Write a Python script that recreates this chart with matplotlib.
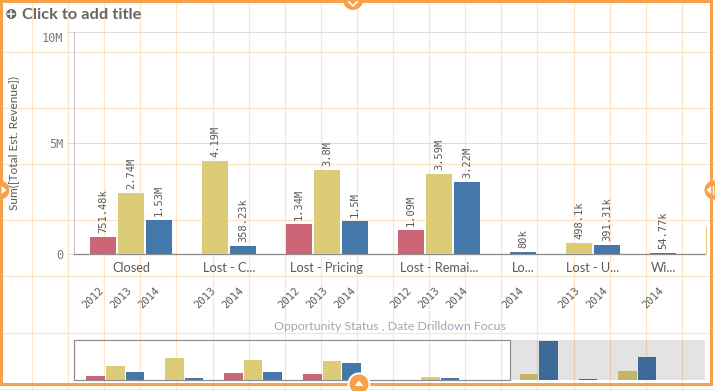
import matplotlib
matplotlib.use("Agg")
import matplotlib.pyplot as plt
from matplotlib.patches import Rectangle, Circle, Polygon
import matplotlib.transforms as mtransforms

plt.rcParams['font.family'] = ['Lato', 'DejaVu Sans']

# ---------------- data ----------------
categories = ["Closed", "Lost - C...", "Lost - Pricing", "Lost - Remai...", "Lo...",
              "Lost - U...", "Wi...", "Won", "Won - F...", "Won - P...", "Won - S..."]
years = [[2012, 2013, 2014], [2013, 2014], [2012, 2013, 2014], [2012, 2013, 2014], [2014],
         [2013, 2014], [2014], [2013, 2014], [2014], [2013, 2014], [2014]]
revenue = [[751480, 2740000, 1530000], [4190000, 358230], [1340000, 3800000, 1500000],
           [1090000, 3590000, 3220000], [80000], [498100, 391310], [54770],
           [1200000, 7500000], [100000], [1640000, 4440000], [40000]]
year_colors = {2012: '#cc6677', 2013: '#ddcc77', 2014: '#4477aa'}
y_ticks = [0, 5e6, 10e6]
y_ticklabels = ['0', '5M', '10M']
title = "Click to add title"
y_label = "Sum([Total Est. Revenue])"
x_label = "Opportunity Status , Date Drilldown Focus"

# ---------------- helpers ----------------
W, H, DPI = 715, 391, 100
def fx(px): return px / W
def fy(py): return 1 - py / H
def pt(px): return px * 72.0 / DPI

def fmt(v):
    if v >= 1e6:
        s = f"{v/1e6:.2f}".rstrip('0').rstrip('.')
        return s + "M"
    s = f"{v/1e3:.2f}".rstrip('0').rstrip('.')
    return s + "k"

# slot layout: consecutive bars within category, one empty slot between categories
slots, vals, cols, yrs, cat_centers = [], [], [], [], []
s = 0
for yl, vl in zip(years, revenue):
    start = s
    for y, v in zip(yl, vl):
        slots.append(s); vals.append(v); cols.append(year_colors[y]); yrs.append(y)
        s += 1
    cat_centers.append((start + s - 1) / 2)
    s += 1

ORANGE = '#f7a24a'
TXT = '#595959'

fig = plt.figure(figsize=(W / DPI, H / DPI), dpi=DPI)
fig.patch.set_facecolor('white')

# background edit grid
ax_bg = fig.add_axes([0, 0, 1, 1], zorder=-5)
ax_bg.set_xlim(0, W); ax_bg.set_ylim(H, 0); ax_bg.axis('off')
for k in range(19):
    x = 32 + 36.1 * k
    ax_bg.plot([x, x], [0, H], color='#fde5cc', lw=pt(1.2))
for k in range(7):
    y = 52 + 56.1 * k
    ax_bg.plot([0, W], [y, y], color='#fde5cc', lw=pt(1.2))

# ---------------- main chart ----------------
slot_px = 28.0
x0_px = 103.0
left_px, right_px = 74, 707
top_px, base_px = 31.7, 254
ax = fig.add_axes([fx(left_px), fy(base_px), (right_px - left_px) / W, (base_px - top_px) / H])
ax.set_facecolor('none')
xl = (-(x0_px - left_px) / slot_px, (right_px - x0_px) / slot_px)
ax.set_xlim(*xl)
ax.set_ylim(0, 10e6)
ax.bar(slots, vals, width=0.93, color=cols, edgecolor='none', linewidth=0, zorder=3)
for sp in ['top', 'right']:
    ax.spines[sp].set_visible(False)
ax.spines['left'].set_color('#c4c4c4')
ax.spines['left'].set_linewidth(pt(1))
ax.spines['bottom'].set_color('#8c8c8c')
ax.spines['bottom'].set_linewidth(pt(1.3))
ax.spines['bottom'].set_bounds(xl[0], (705 - x0_px) / slot_px)
ax.set_xticks([])
ax.set_yticks(y_ticks)
ax.set_yticklabels(y_ticklabels, family='DejaVu Sans Mono', fontsize=8.6, color='#7a7a7a')
ax.tick_params(axis='y', length=pt(7), color='#dcdcdc', width=pt(1), pad=pt(4))
ax.yaxis.grid(True, color='#dcdcdc', lw=pt(1))
ax.set_axisbelow(True)
tl = ax.get_yticklabels()
tl[-1].set_va('top')

vis_right = xl[1]
for sl, v, y in zip(slots, vals, yrs):
    if sl > vis_right - 0.3:
        continue
    ax.annotate(fmt(v), xy=(sl, v), xytext=(0, pt(4)), textcoords='offset points',
                rotation=90, ha='center', va='bottom', fontsize=7.5,
                family='DejaVu Sans Mono', color=TXT)
    ax.annotate(str(y), xy=(sl, 0), xycoords=('data', 'axes fraction'),
                xytext=(pt(3), -pt(31)), textcoords='offset points',
                rotation=45, ha='right', va='top', fontsize=7.6,
                family='DejaVu Sans Mono', color=TXT)
for c, cx in zip(categories, cat_centers):
    if cx > vis_right:
        continue
    ax.annotate(c, xy=(cx, 0), xycoords=('data', 'axes fraction'),
                xytext=(0, -pt(14)), textcoords='offset points',
                ha='center', va='center', fontsize=9.2, color=TXT)

fig.text(fx(14), fy(143), y_label, rotation=90, ha='center', va='center',
         fontsize=8.6, color=TXT)
fig.text(fx(390), fy(327), x_label, ha='center', va='center', fontsize=8.9,
         color='#9ea7b5')

# ---------------- mini chart ----------------
m_slot_px = 19.7
m_x0_px = 95.5
axm = fig.add_axes([fx(74), fy(380), (705 - 74) / W, 40 / H])
axm.set_facecolor('none')
mxl = (-(m_x0_px - 74) / m_slot_px, (705 - m_x0_px) / m_slot_px)
axm.set_xlim(*mxl)
axm.set_ylim(0, max(vals) * 1.02)
axm.bar(slots, vals, width=0.95, color=cols, edgecolor='none', linewidth=0, zorder=3)
axm.axis('off')
view_end = (510 - m_x0_px) / m_slot_px
axm.add_patch(Rectangle((view_end, 0), mxl[1] - view_end, 1.0,
                        transform=axm.get_xaxis_transform(), facecolor='black',
                        alpha=0.11, edgecolor='none', zorder=5))

# ---------------- overlay (frame, handles, title) ----------------
ax_o = fig.add_axes([0, 0, 1, 1], zorder=20)
ax_o.set_xlim(0, W); ax_o.set_ylim(H, 0); ax_o.axis('off')
ax_o.set_facecolor('none')
ax_o.add_patch(Rectangle((74, 339.5), 436, 40.8, fill=False, edgecolor='#8c8c8c', lw=pt(1.2)))
ax_o.add_patch(Rectangle((1.3, 1.0), 711 - 1.3, 383.7 - 1.0, fill=False,
                         edgecolor=ORANGE, lw=pt(3)))
# title
ax_o.add_patch(Circle((11.3, 14), 5, facecolor='#666666', edgecolor='none'))
ax_o.plot([8.3, 14.3], [14, 14], color='white', lw=pt(1.6))
ax_o.plot([11.3, 11.3], [11, 17], color='white', lw=pt(1.6))
ax_o.text(22.5, 19, title, fontsize=11.8, fontweight='bold', color='#666666',
          ha='left', va='baseline')
# handles
ax_o.add_patch(Circle((353, 0), 10, facecolor=ORANGE, edgecolor='none'))
ax_o.plot([349, 353, 357], [2, 6, 2], color='white', lw=pt(1.8))
ax_o.add_patch(Circle((359, 384), 10.5, facecolor=ORANGE, edgecolor='white', lw=pt(2)))
ax_o.add_patch(Polygon([[354.5, 386], [363.5, 386], [359, 380.5]], facecolor='white', edgecolor='none'))
ax_o.add_patch(Circle((0, 190), 9.5, facecolor=ORANGE, edgecolor='none'))
ax_o.add_patch(Polygon([[1.5, 186], [1.5, 194], [6.5, 190]], facecolor='white', edgecolor='none'))
ax_o.add_patch(Circle((714, 190), 9.5, facecolor=ORANGE, edgecolor='none'))
ax_o.add_patch(Polygon([[711, 186], [711, 194], [706.5, 190]], facecolor='white', edgecolor='none'))
ax_o.plot([712.5, 712.5], [186, 194], color='white', lw=pt(1.2))

fig.savefig("out.png", dpi=DPI, facecolor='white')
